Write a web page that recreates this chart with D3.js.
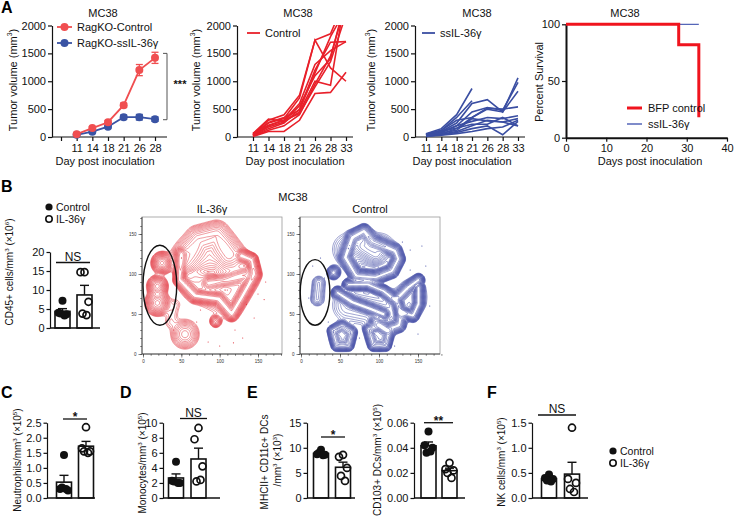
<!DOCTYPE html>
<html><head><meta charset="utf-8">
<script src="https://cdn.jsdelivr.net/npm/d3@7"></script>
<style>body{margin:0;background:#fff}svg{font-family:"Liberation Sans",Arial,sans-serif}</style>
</head><body><svg id="fig" width="734" height="519"></svg>
<script>
// ---------------- DATA ----------------
// Panel A1 (RagKO mean ± SEM)
const a1Ticks = ["", "11", "14", "18", "21", "26", "28"];
const a1Days = ["11", "14", "18", "21", "26", "28"];
const ragControl = [50, 160, 265, 570, 1200, 1420];
const ragControlSem = [15, 25, 30, 40, 100, 100];
const ragIL = [40, 95, 185, 355, 355, 320];
const ragILSem = [10, 15, 20, 40, 50, 40];
// Panels A2/A3 (individual mice)
const mouseDays = ["11", "14", "18", "21", "26", "28", "33"];
const controlMice = [
  [50, 300, 400, 750, 1740, 1850, 2500],
  [40, 250, 330, 700, 1740, 1240, 1000],
  [30, 200, 300, 600, 1300, 1550, 1710],
  [20, 150, 250, 500, 1200, 1700, 1710],
  [60, 320, 280, 560, 1100, 1400, 2500],
  [10, 100, 100, 300, 780, 800, 1160],
  [30, 180, 270, 450, 1000, 930, 2600],
  [20, 120, 200, 400, 950, 1450, 2400],
  [40, 260, 350, 480, 1150, 1800, 2300],
  [70, 210, 300, 420, 900, 1350, 2200]
];
const ilMice = [
  [60, 150, 400, 870],
  [50, 120, 350, 650],
  [40, 100, 250, 600, 670, 450, 1060],
  [30, 80, 200, 450, 530, 480, 980],
  [50, 120, 300, 350, 500, 450, 820],
  [20, 60, 150, 350, 520, 500, 540],
  [30, 90, 200, 280, 350, 330, 380],
  [10, 50, 100, 200, 300, 270, 330],
  [40, 100, 160, 230, 230, 350, 200],
  [20, 40, 80, 150, 200, 40, 280],
  [10, 30, 60, 100, 150, 180, 300],
  [30, 70, 120, 330, 290, 270, 200]
];
// Panel A4 survival
const survTimesBFP = [0, 28, 33];
const survBFP = [100, 82, 18];
const survTimesIL = [0, 33];
const survIL = [100, 100];
// Panel B t-SNE density structures: [x, y] paths (data units), spread, weight
const redStructures = [
  {pts: [[24, 113]], s: 5.5, w: 1.2},
  {pts: [[18, 84]], s: 5.5, w: 1.0},
  {pts: [[18, 63]], s: 6.5, w: 1.0},
  {pts: [[55, 118], [72, 142], [95, 148], [112, 125]], s: 9, w: 0.3},
  {pts: [[49, 124], [47, 92], [67, 72], [98, 68], [115, 49], [128, 70], [145, 99], [141, 117], [128, 122]], s: 3.5, w: 0.8},
  {pts: [[85, 88], [110, 92], [140, 100]], s: 4, w: 0.3},
  {pts: [[60, 120], [100, 125], [130, 95], [110, 65], [70, 85]], s: 14, w: 0.1},
  {pts: [[54, 24]], s: 9, w: 0.3},
  {pts: [[94, 40]], s: 3.5, w: 0.35},
  {pts: [[35, 40], [40, 60]], s: 6, w: 0.06}
];
const blueStructures = [
  {pts: [[56, 120], [65, 145], [80, 153], [91, 140], [120, 128], [124, 118], [116, 103], [95, 95], [70, 97], [56, 120]], s: 3.5, w: 1.0},
  {pts: [[80, 135], [95, 125]], s: 7, w: 0.3},
  {pts: [[41, 101]], s: 3.5, w: 0.9},
  {pts: [[46, 76], [65, 64], [90, 55], [105, 49]], s: 3, w: 1.0},
  {pts: [[60, 86], [85, 86], [105, 78], [118, 68]], s: 3, w: 1.0},
  {pts: [[150, 92], [136, 82], [122, 68], [126, 52], [143, 47], [150, 62], [150, 82]], s: 3, w: 1.0},
  {pts: [[95, 40], [110, 30], [125, 35], [128, 50]], s: 3.5, w: 0.8},
  {pts: [[40, 28], [52, 34], [64, 26], [60, 10], [45, 10], [40, 28]], s: 3, w: 0.7},
  {pts: [[86, 30], [99, 34], [112, 26], [108, 10], [92, 10], [86, 30]], s: 3, w: 0.7},
  {pts: [[52, 20]], s: 7, w: 0.25},
  {pts: [[99, 20]], s: 7, w: 0.25},
  {pts: [[60, 130], [100, 130]], s: 14, w: 0.1},
  {pts: [[60, 60], [110, 50], [140, 70]], s: 14, w: 0.1},
  {pts: [[20, 68], [22, 88]], s: 5, w: 0.15}
];
const redDots = [[110, 80], [135, 62], [150, 75], [158, 68], [145, 45], [120, 30], [130, 20], [75, 55], [85, 15], [150, 110], [40, 30], [100, 10], [160, 90], [118, 14], [70, 40]];
const blueDots = [[25, 120], [15, 110], [30, 95], [10, 70], [140, 130], [160, 110], [155, 135], [75, 20], [120, 10], [165, 60], [35, 40], [150, 25], [140, 105], [100, 100], [130, 140]];
const gateIL = [22, 86, 22, 50];   // cx, cy, rx, ry
const gateCtrl = [18, 77, 19, 41];
// Bar panels
const groups = ["Control", "IL-36γ"];
const cd45Ctrl = [7.2, 4.0, 3.6, 3.8, 3.3];
const cd45IL = [14.7, 14.7, 6.9, 3.8, 3.4];
const neutCtrl = [1.43, 0.30, 0.25, 0.35, 0.30];
const neutIL = [2.35, 1.65, 1.55, 1.55, 1.50];
const monoCtrl = [4.8, 2.3, 2.0, 2.2, 2.0];
const monoIL = [9.3, 7.8, 4.2, 2.2, 2.4];
const mhcCtrl = [9.6, 8.7, 8.6, 9.0, 8.5];
const mhcIL = [8.6, 8.2, 6.0, 4.4, 3.4];
const cd103Ctrl = [0.053, 0.042, 0.040, 0.036, 0.037];
const cd103IL = [0.028, 0.023, 0.022, 0.020, 0.016];
const nkCtrl = [0.47, 0.40, 0.38, 0.35, 0.33];
const nkIL = [1.40, 0.38, 0.30, 0.18, 0.12];

// ---------------- HELPERS ----------------
const svg = d3.select("#fig");
const BLUE = "#3a4ea2";

function label(parent, x, y, parts, o = {}) {
  const size = o.size || 11;
  const t = parent.append("text").attr("font-size", size)
    .attr("text-anchor", o.anchor || "middle").attr("font-weight", o.weight || "normal")
    .attr("fill", o.fill || "#111");
  if (o.rotate) t.attr("transform", `translate(${x},${y}) rotate(-90)`);
  else t.attr("x", x).attr("y", y);
  let sup = false;
  parts.forEach(p => {
    const isSup = Array.isArray(p);
    const ts = t.append("tspan").text(isSup ? p[0] : p);
    if (isSup) {
      ts.attr("font-size", size * 0.62);
      if (!sup) { ts.attr("dy", -size * 0.42); sup = true; }
    } else if (sup) { ts.attr("dy", size * 0.42); sup = false; }
  });
  return t;
}
function styleAxis(sel, fs = 11) {
  sel.selectAll("path,line").attr("stroke", "#111").attr("stroke-width", 1.2);
  sel.selectAll("text").attr("font-size", fs).attr("fill", "#111").style("font-family", "Liberation Sans, Arial, sans-serif");
}
function letter(t, x, y) {
  svg.append("text").attr("x", x).attr("y", y).attr("font-size", 16).attr("font-weight", "bold").text(t);
}
const sem = a => d3.deviation(a) / Math.sqrt(a.length);
const fInt = d3.format("d");

// ---------------- PANEL A ----------------
letter("A", 1, 13);
function tumorAxes(cfg) {
  const g = svg.append("g");
  const y = d3.scaleLinear().domain([0, 2000]).range([137, 25.5]);
  const x = d3.scalePoint().domain(cfg.ticks).range([cfg.xFirst, cfg.xLast]);
  const ay = g.append("g").attr("transform", `translate(${cfg.axisX},0)`)
    .call(d3.axisLeft(y).tickValues([0, 500, 1000, 1500, 2000]).tickFormat(fInt).tickSize(4).tickPadding(2).tickSizeOuter(0));
  const ax = g.append("g").attr("transform", `translate(0,137)`)
    .call(d3.axisBottom(x).tickSize(4).tickSizeOuter(0).tickPadding(3));
  ax.select(".domain").remove();
  ax.append("line").attr("x1", cfg.axisX).attr("x2", cfg.xEnd).attr("y1", 0).attr("y2", 0);
  styleAxis(ay); styleAxis(ax);
  label(g, cfg.titleX, 17, ["MC38"], {size: 11});
  label(g, cfg.xlabX, 165, ["Day post inoculation"], {size: 11});
  label(g, cfg.ylabX, 80, ["Tumor volume (mm", ["3"], ")"], {size: 11, rotate: true});
  return {g, x, y};
}
// A1
{
  const {g, x, y} = tumorAxes({ticks: a1Ticks, axisX: 52, xFirst: 61, xLast: 155, xEnd: 167, titleX: 103, xlabX: 105, ylabX: 17});
  const series = [
    {m: ragIL, e: ragILSem, c: "#3953a4"},
    {m: ragControl, e: ragControlSem, c: "#f04e50"}
  ];
  series.forEach(s => {
    const pts = a1Days.map((d, i) => ({d, v: s.m[i], e: s.e[i]}));
    g.append("g").selectAll("g").data(pts).join("g").each(function(p) {
      const gg = d3.select(this);
      gg.append("line").attr("x1", x(p.d)).attr("x2", x(p.d)).attr("y1", y(p.v - p.e)).attr("y2", y(p.v + p.e)).attr("stroke", s.c).attr("stroke-width", 1.3);
      [p.v - p.e, p.v + p.e].forEach(v => gg.append("line").attr("x1", x(p.d) - 3.5).attr("x2", x(p.d) + 3.5).attr("y1", y(v)).attr("y2", y(v)).attr("stroke", s.c).attr("stroke-width", 1.3));
    });
    g.append("path").datum(pts).attr("fill", "none").attr("stroke", s.c).attr("stroke-width", 1.8)
      .attr("d", d3.line().x(p => x(p.d)).y(p => y(p.v)));
    g.append("g").selectAll("circle").data(pts).join("circle").attr("cx", p => x(p.d)).attr("cy", p => y(p.v)).attr("r", 4).attr("fill", s.c);
  });
  [["RagKO-Control", "#f04e50", 27], ["RagKO-ssIL-36γ", "#3953a4", 43]].forEach(([t, c, yy]) => {
    g.append("line").attr("x1", 57).attr("x2", 72).attr("y1", yy).attr("y2", yy).attr("stroke", c).attr("stroke-width", 1.8);
    g.append("circle").attr("cx", 64.5).attr("cy", yy).attr("r", 4).attr("fill", c);
    label(g, 77, yy + 4, [t], {anchor: "start", size: 11});
  });
  const bx = 167, yt = y(1500), yb = y(310);
  g.append("path").attr("d", `M${bx - 4},${yt}H${bx}V${yb}H${bx - 4}`).attr("fill", "none").attr("stroke", "#555").attr("stroke-width", 1);
  label(g, 180, y(880), ["***"], {size: 11, weight: "bold"});
}
// A2 & A3
function spaghetti(cfg, mice, color, legendText) {
  const {g, x, y} = tumorAxes(cfg);
  const clipId = "clip" + cfg.axisX;
  svg.append("clipPath").attr("id", clipId).append("rect").attr("x", cfg.axisX).attr("y", 25).attr("width", cfg.xEnd - cfg.axisX + 4).attr("height", 114);
  const line = d3.line().x((v, i) => x(mouseDays[i])).y(v => y(v));
  g.append("g").attr("clip-path", `url(#${clipId})`).selectAll("path").data(mice).join("path")
    .attr("d", line).attr("fill", "none").attr("stroke", color).attr("stroke-width", 1.6);
  g.append("line").attr("x1", cfg.legX).attr("x2", cfg.legX + 13).attr("y1", 33).attr("y2", 33).attr("stroke", color).attr("stroke-width", 1.8);
  label(g, cfg.legX + 18, 37, [legendText], {anchor: "start", size: 11});
}
spaghetti({ticks: mouseDays, axisX: 237, xFirst: 253, xLast: 346, xEnd: 353, titleX: 298, xlabX: 295, ylabX: 200, legX: 247}, controlMice, "#e8202a", "Control");
spaghetti({ticks: mouseDays, axisX: 415, xFirst: 426, xLast: 518, xEnd: 525, titleX: 477, xlabX: 462, ylabX: 375, legX: 422}, ilMice, BLUE, "ssIL-36γ");
// A4 survival
{
  const g = svg.append("g");
  const x = d3.scaleLinear().domain([0, 40]).range([566, 727]);
  const y = d3.scaleLinear().domain([0, 100]).range([137.7, 24.3]);
  const ay = g.append("g").attr("transform", "translate(566,0)").call(d3.axisLeft(y).tickValues([0, 50, 100]).tickSize(4).tickPadding(2).tickSizeOuter(0));
  const ax = g.append("g").attr("transform", "translate(0,137.7)").call(d3.axisBottom(x).tickValues([0, 10, 20, 30, 40]).tickSize(4).tickSizeOuter(0));
  styleAxis(ay); styleAxis(ax);
  ay.select(".domain").attr("stroke-width", 2); ax.select(".domain").attr("stroke-width", 2);
  const step = d3.line().curve(d3.curveStepAfter).x(d => x(d[0])).y(d => y(d[1]));
  g.append("path").datum(survTimesIL.map((t, i) => [t, survIL[i]])).attr("d", step).attr("fill", "none").attr("stroke", "#5566b8").attr("stroke-width", 1.2);
  g.append("path").datum(survTimesBFP.map((t, i) => [t, survBFP[i]])).attr("d", step).attr("fill", "none").attr("stroke", "#f0141e").attr("stroke-width", 3);
  label(g, 625, 17, ["MC38"], {size: 11});
  label(g, 650, 165, ["Days post inoculation"], {size: 11});
  label(g, 543, 82, ["Percent Survival"], {size: 11, rotate: true});
  g.append("line").attr("x1", 627).attr("x2", 642).attr("y1", 108).attr("y2", 108).attr("stroke", "#f0141e").attr("stroke-width", 3);
  label(g, 648, 112, ["BFP control"], {anchor: "start", size: 11});
  g.append("line").attr("x1", 627).attr("x2", 642).attr("y1", 124).attr("y2", 124).attr("stroke", "#5566b8").attr("stroke-width", 1.5);
  label(g, 648, 128, ["ssIL-36γ"], {anchor: "start", size: 11});
}

// ---------------- BAR PANELS ----------------
function barPanel(cfg) {
  const g = svg.append("g");
  const y = d3.scaleLinear().domain([0, cfg.max]).range([cfg.y0, cfg.y1]);
  const x = d3.scalePoint().domain(groups).range([cfg.axisX + cfg.c1, cfg.axisX + cfg.c2]);
  const ay = g.append("g").attr("transform", `translate(${cfg.axisX},0)`)
    .call(d3.axisLeft(y).tickValues(cfg.ticks).tickFormat(cfg.fmt).tickSize(3.5).tickPadding(2).tickSizeOuter(0));
  styleAxis(ay, 11);
  const bw = 15;
  [[cfg.ctrl, groups[0], true], [cfg.il, groups[1], false]].forEach(([vals, grp, filled]) => {
    const m = d3.mean(vals), e = sem(vals), cx = x(grp);
    g.append("line").attr("x1", cx).attr("x2", cx).attr("y1", y(m)).attr("y2", y(m + e)).attr("stroke", "#111").attr("stroke-width", 1.4);
    g.append("line").attr("x1", cx - 4.5).attr("x2", cx + 4.5).attr("y1", y(m + e)).attr("y2", y(m + e)).attr("stroke", "#111").attr("stroke-width", 1.4);
    g.append("rect").attr("x", cx - bw / 2).attr("y", y(m)).attr("width", bw).attr("height", cfg.y0 - y(m))
      .attr("fill", "none").attr("stroke", "#111").attr("stroke-width", 1.6);
    const jit = [0, -4, 4, -2, 2];
    g.append("g").selectAll("circle").data(vals).join("circle")
      .attr("cx", (v, i) => cx + jit[i]).attr("cy", v => y(v)).attr("r", filled ? 4 : 3.5)
      .attr("fill", filled ? "#111" : "none").attr("stroke", "#111").attr("stroke-width", filled ? 0 : 1.7);
  });
  g.append("line").attr("x1", cfg.axisX).attr("x2", cfg.xEnd).attr("y1", cfg.y0).attr("y2", cfg.y0).attr("stroke", "#111").attr("stroke-width", 1.3);
  g.append("line").attr("x1", cfg.sig[0]).attr("x2", cfg.sig[1]).attr("y1", cfg.sig[2]).attr("y2", cfg.sig[2]).attr("stroke", "#111").attr("stroke-width", 1.3);
  const ns = cfg.sigText === "NS";
  label(g, (cfg.sig[0] + cfg.sig[1]) / 2, cfg.sig[2] - (ns ? 2 : -2), [cfg.sigText], {size: 12, weight: ns ? "normal" : "bold"});
  cfg.ylab.forEach(l => label(g, l.x, l.y, l.parts, {size: 10, rotate: true}));
  return g;
}
const f1 = d3.format(".1f"), f2 = d3.format(".2f");
letter("B", 1, 192);
barPanel({axisX: 50, xEnd: 100, c1: 12.5, c2: 34.5, y0: 328, y1: 252, max: 20, ticks: [0, 5, 10, 15, 20], fmt: fInt,
  ctrl: cd45Ctrl, il: cd45IL, sig: [56, 90, 262.5], sigText: "NS",
  ylab: [{x: 13, y: 272, parts: ["CD45+ cells/mm", ["3"], " (×10", ["6"], ")"]}]});
[[207, true, "Control"], [219, false, "IL-36γ"]].forEach(([yy, f, t]) => {
  svg.append("circle").attr("cx", 49).attr("cy", yy).attr("r", f ? 3.6 : 3.2).attr("fill", f ? "#111" : "none").attr("stroke", "#111").attr("stroke-width", f ? 0 : 1.6);
  label(svg, 56, yy + 4, [t], {anchor: "start", size: 10.5});
});
letter("C", 1, 398);
barPanel({axisX: 47, xEnd: 95, c1: 17, c2: 39, y0: 498, y1: 422.7, max: 2.5, ticks: [0, 0.5, 1, 1.5, 2, 2.5], fmt: f1,
  ctrl: neutCtrl, il: neutIL, sig: [63, 87, 419], sigText: "*",
  ylab: [{x: 21, y: 460, parts: ["Neutrophils/mm", ["3"], " (×10", ["5"], ")"]}]});
letter("D", 120, 398);
barPanel({axisX: 163, xEnd: 220, c1: 13, c2: 35.5, y0: 498, y1: 422.7, max: 10, ticks: [0, 2, 4, 6, 8, 10], fmt: fInt,
  ctrl: monoCtrl, il: monoIL, sig: [180, 207, 418.5], sigText: "NS",
  ylab: [{x: 146, y: 463, parts: ["Monocytes/mm", ["3"], " (×10", ["5"], ")"]}]});
letter("E", 247, 398);
barPanel({axisX: 307, xEnd: 355, c1: 14, c2: 36, y0: 498, y1: 422.7, max: 15, ticks: [0, 5, 10, 15], fmt: fInt,
  ctrl: mhcCtrl, il: mhcIL, sig: [321, 345, 437], sigText: "*",
  ylab: [{x: 268, y: 462, parts: ["MHCII+ CD11c+ DCs"]}, {x: 281, y: 460, parts: ["/mm", ["3"], " (×10", ["3"], ")"]}]});
barPanel({axisX: 414, xEnd: 465, c1: 14.5, c2: 35.5, y0: 498, y1: 422.7, max: 0.06, ticks: [0, 0.02, 0.04, 0.06], fmt: f2,
  ctrl: cd103Ctrl, il: cd103IL, sig: [424, 453, 422.7], sigText: "**",
  ylab: [{x: 381, y: 460, parts: ["CD103+ DCs/mm", ["3"], " (×10", ["5"], ")"]}]});
letter("F", 487, 398);
barPanel({axisX: 532, xEnd: 588, c1: 17, c2: 40, y0: 498, y1: 422.7, max: 1.5, ticks: [0, 0.5, 1, 1.5], fmt: f1,
  ctrl: nkCtrl, il: nkIL, sig: [538, 576, 415], sigText: "NS",
  ylab: [{x: 505, y: 462, parts: ["NK cells/mm", ["3"], " (×10", ["5"], ")"]}]});
[[451, true, "Control"], [463, false, "IL-36γ"]].forEach(([yy, f, t]) => {
  svg.append("circle").attr("cx", 613).attr("cy", yy).attr("r", f ? 3.6 : 3.2).attr("fill", f ? "#111" : "none").attr("stroke", "#111").attr("stroke-width", f ? 0 : 1.6);
  label(svg, 620, yy + 4, [t], {anchor: "start", size: 10.5});
});

// ---------------- t-SNE CONTOURS ----------------
const RES = 1.5, NX = 122, NY = 115;
function densityGrid(structs) {
  const v = new Float64Array(NX * NY);
  for (let j = 0; j < NY; j++) for (let i = 0; i < NX; i++) {
    const px = i * RES, py = j * RES; let s = 0;
    for (const st of structs) {
      let dmin = Infinity; const p = st.pts;
      if (p.length === 1) dmin = (px - p[0][0]) ** 2 + (py - p[0][1]) ** 2;
      else for (let k = 0; k < p.length - 1; k++) {
        const [ax, ay] = p[k], [bx, by] = p[k + 1];
        const dx = bx - ax, dy = by - ay, L = dx * dx + dy * dy;
        let t = ((px - ax) * dx + (py - ay) * dy) / L; t = Math.max(0, Math.min(1, t));
        const d = (px - ax - t * dx) ** 2 + (py - ay - t * dy) ** 2;
        if (d < dmin) dmin = d;
      }
      s += st.w * Math.exp(-dmin / (2 * st.s * st.s));
    }
    v[j * NX + i] = s;
  }
  return v;
}
function tsne(cfg) {
  const g = svg.append("g");
  const xs = d3.scaleLinear().domain([0, 150]).range([cfg.x0, cfg.x150]);
  const ys = d3.scaleLinear().domain([0, 150]).range([354, 234]);
  const clipId = "tclip" + cfg.x0;
  svg.append("clipPath").attr("id", clipId).append("rect").attr("x", cfg.left).attr("y", 217).attr("width", cfg.right - cfg.left).attr("height", 137);
  const levels = d3.range(18).map(k => 0.035 * Math.pow(1.1 / 0.035, k / 17));
  const contours = d3.contours().size([NX, NY]).thresholds(levels)(densityGrid(cfg.structs));
  const path = d3.geoPath(d3.geoTransform({point(px, py) { this.stream.point(xs(px * RES), ys(py * RES)); }}));
  const cg = g.append("g").attr("clip-path", `url(#${clipId})`);
  cg.selectAll("path").data(contours).join("path")
    .attr("d", path).attr("fill", "none").attr("stroke", cfg.color).attr("stroke-width", 0.55).attr("stroke-opacity", 0.95);
  cg.selectAll("circle").data(cfg.dots).join("circle").attr("cx", d => xs(d[0])).attr("cy", d => ys(d[1])).attr("r", 0.6).attr("fill", cfg.color);
  g.append("rect").attr("x", cfg.left).attr("y", 217).attr("width", cfg.right - cfg.left).attr("height", 137).attr("fill", "none").attr("stroke", "#999").attr("stroke-width", 0.8);
  const ay = g.append("g").attr("transform", `translate(${cfg.left},0)`).call(d3.axisLeft(ys).tickValues(d3.range(0, 171, 10)).tickSize(1.8).tickFormat(""));
  const ay2 = g.append("g").attr("transform", `translate(${cfg.left},0)`).call(d3.axisLeft(ys).tickValues([0, 50, 100, 150]).tickSize(3.5).tickFormat(fInt).tickPadding(2));
  const ax = g.append("g").attr("transform", "translate(0,354)").call(d3.axisBottom(xs).tickValues(d3.range(0, 181, 10)).tickSize(1.8).tickFormat(""));
  const ax2 = g.append("g").attr("transform", "translate(0,354)").call(d3.axisBottom(xs).tickValues([0, 50, 100, 150]).tickSize(3.5).tickFormat(fInt).tickPadding(2));
  [ay, ay2, ax, ax2].forEach(a => {
    a.select(".domain").remove();
    a.selectAll("line").attr("stroke", "#333").attr("stroke-width", 0.6);
    a.selectAll("text").attr("font-size", 4.5).attr("fill", "#333");
  });
  g.append("line").attr("x1", cfg.left).attr("x2", cfg.left).attr("y1", 217).attr("y2", 354).attr("stroke", "#333").attr("stroke-width", 0.8);
  g.append("line").attr("x1", cfg.left).attr("x2", cfg.right).attr("y1", 354).attr("y2", 354).attr("stroke", "#333").attr("stroke-width", 0.8);
  const [cx, cy, rx, ry] = cfg.gate;
  g.append("ellipse").attr("cx", xs(cx)).attr("cy", ys(cy)).attr("rx", xs(rx) - xs(0)).attr("ry", ys(0) - ys(ry))
    .attr("fill", "none").attr("stroke", "#111").attr("stroke-width", 1.4);
  label(g, (cfg.left + cfg.right) / 2, 213, [cfg.title], {size: 11});
}
tsne({x0: 143, x150: 258, left: 142, right: 282, structs: redStructures, dots: redDots, color: "#e23a44", gate: gateIL, title: "IL-36γ"});
tsne({x0: 301, x150: 418, left: 300, right: 440, structs: blueStructures, dots: blueDots, color: "#3f4aa4", gate: gateCtrl, title: "Control"});
label(svg, 293, 201, ["MC38"], {size: 11});
</script></body></html>
